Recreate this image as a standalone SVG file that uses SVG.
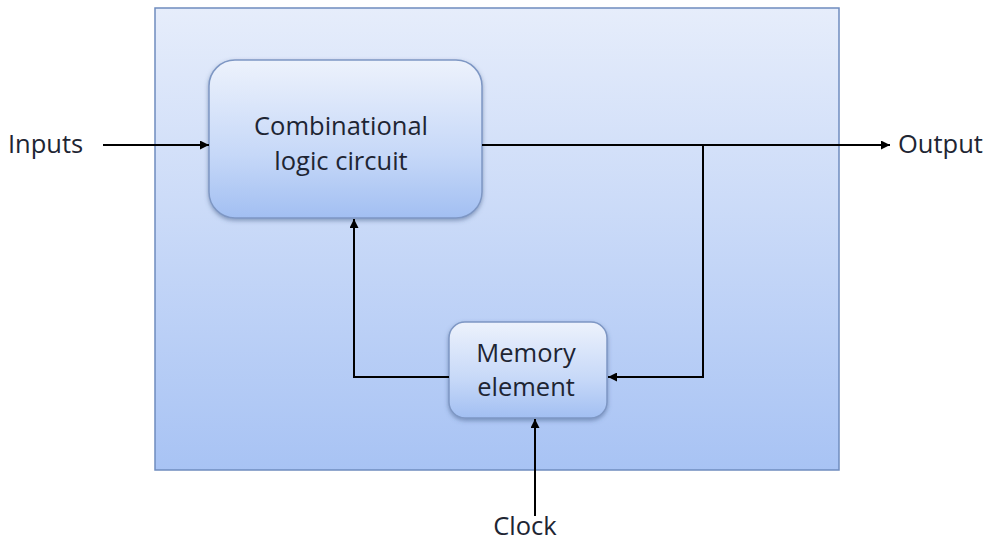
<svg xmlns="http://www.w3.org/2000/svg" width="993" height="544" viewBox="0 0 993 544">
<defs>
<linearGradient id="gOuter" x1="0" y1="0" x2="0" y2="1">
<stop offset="0" stop-color="#e6edfb"/>
<stop offset="1" stop-color="#a8c3f4"/>
</linearGradient>
<linearGradient id="gBox" x1="0" y1="0" x2="0" y2="1">
<stop offset="0" stop-color="#edf2fc"/>
<stop offset="0.6" stop-color="#c6d8f8"/>
<stop offset="1" stop-color="#a2bff2"/>
</linearGradient>
<filter id="sh" x="-10%" y="-10%" width="120%" height="130%">
<feDropShadow dx="0" dy="2" stdDeviation="2" flood-color="#3b5680" flood-opacity="0.5"/>
</filter>
<marker id="ah" viewBox="0 0 10 10" refX="10" refY="5" markerWidth="9" markerHeight="9" markerUnits="userSpaceOnUse" orient="auto">
<path d="M0,0 L10,5 L0,10 z" fill="#000"/>
</marker>
<style>
.lbl{font-family:"Open Sans","Liberation Sans",sans-serif;font-size:25.5px;fill:#1e2533;}
.box{fill:url(#gBox);stroke:#7e97c4;stroke-width:1.5;filter:url(#sh);}
.wire{fill:none;stroke:#000;stroke-width:2;}
</style>
</defs>
<g id="outer">
<rect x="155" y="8" width="684" height="462" fill="url(#gOuter)" stroke="#6f8cbf" stroke-width="1.5"/>
</g>
<g id="comb">
<rect class="box" x="209" y="60" width="273" height="158" rx="26"/>
<text class="lbl" x="341" y="135" text-anchor="middle">Combinational</text>
<text class="lbl" x="341" y="170" text-anchor="middle">logic circuit</text>
</g>
<g id="memory">
<rect class="box" x="449" y="322" width="158" height="96" rx="16"/>
<text class="lbl" x="526" y="362" text-anchor="middle">Memory</text>
<text class="lbl" x="526" y="396" text-anchor="middle">element</text>
</g>
<g id="inputs"><text class="lbl" x="8" y="153">Inputs</text></g>
<g id="output"><text class="lbl" x="898" y="153">Output</text></g>
<g id="clock"><text class="lbl" x="525" y="535" text-anchor="middle">Clock</text></g>
<g id="connectors">
<line class="wire" x1="103" y1="145" x2="209" y2="145" marker-end="url(#ah)"/>
<line class="wire" x1="482" y1="145" x2="890" y2="145" marker-end="url(#ah)"/>
<polyline class="wire" points="703,145 703,377 608,377" marker-end="url(#ah)"/>
<polyline class="wire" points="449,377 354,377 354,219" marker-end="url(#ah)"/>
<line class="wire" x1="535" y1="516" x2="535" y2="419" marker-end="url(#ah)"/>
</g>
</svg>
